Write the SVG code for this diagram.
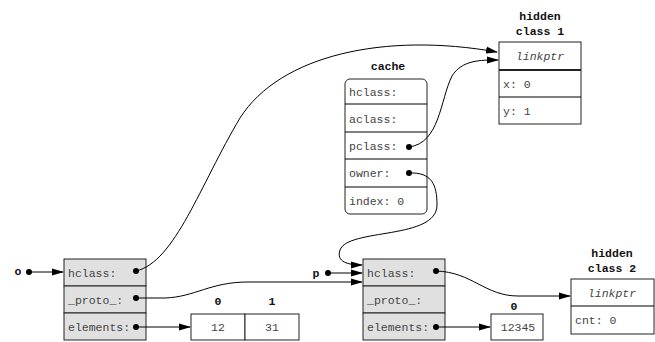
<svg xmlns="http://www.w3.org/2000/svg" width="655" height="342" viewBox="0 0 655 342">
<defs>
<marker id="ah" markerWidth="12" markerHeight="8" refX="11" refY="4" orient="auto" markerUnits="userSpaceOnUse">
<path d="M0,0.5 L12,4 L0,7.5 Z" fill="#000"/>
</marker>
<style>
.box{fill:#fff;stroke:#222;stroke-width:1}
.gbox{fill:#e0e0e0;stroke:#222;stroke-width:1}
.t{font-family:"Liberation Mono","Courier New",monospace;font-size:11.5px;fill:#444}
.i{font-style:italic;text-anchor:middle}
.b{font-family:"Liberation Mono","Courier New",monospace;font-size:11.5px;font-weight:bold;fill:#111;text-anchor:middle}
.m{text-anchor:middle}
.c{fill:none;stroke:#000;stroke-width:1}
.a{marker-end:url(#ah)}
.dot{fill:#000}
</style>
</defs>

<g id="o-label">
<text class="b" x="18" y="275">o</text>
</g>
<g id="p-label">
<text class="b" x="316" y="277">p</text>
</g>

<g id="obj-o">
<rect class="gbox" x="64" y="259" width="82" height="27"/>
<rect class="gbox" x="64" y="286" width="82" height="27"/>
<rect class="gbox" x="64" y="313" width="82" height="27"/>
<text class="t" x="68" y="277">hclass:</text>
<text class="t" x="68" y="304">_proto_:</text>
<text class="t" x="68" y="331">elements:</text>
</g>

<g id="array-o">
<text class="b" x="218" y="305">0</text>
<text class="b" x="272" y="305">1</text>
<rect class="box" x="191" y="314" width="54" height="26"/>
<rect class="box" x="245" y="314" width="54" height="26"/>
<text class="t m" x="218" y="331">12</text>
<text class="t m" x="272" y="331">31</text>
</g>

<g id="obj-p">
<rect class="gbox" x="363" y="259" width="82" height="27"/>
<rect class="gbox" x="363" y="286" width="82" height="27"/>
<rect class="gbox" x="363" y="313" width="82" height="27"/>
<text class="t" x="367" y="277">hclass:</text>
<text class="t" x="367" y="304">_proto_:</text>
<text class="t" x="367" y="331">elements:</text>
</g>

<g id="array-p">
<text class="b" x="514" y="310">0</text>
<rect class="box" x="491" y="314" width="52" height="26"/>
<text class="t m" x="518" y="331">12345</text>
</g>

<g id="cache">
<text class="b" x="388" y="70">cache</text>
<rect class="box" x="345" y="79" width="82" height="135" rx="5"/>
<line class="c" x1="345" y1="104" x2="427" y2="104"/>
<line class="c" x1="345" y1="132" x2="427" y2="132"/>
<line class="c" x1="345" y1="159" x2="427" y2="159"/>
<line class="c" x1="345" y1="187" x2="427" y2="187"/>
<text class="t" x="349" y="96">hclass:</text>
<text class="t" x="349" y="123">aclass:</text>
<text class="t" x="349" y="150">pclass:</text>
<text class="t" x="349" y="177">owner:</text>
<text class="t" x="349" y="205">index: 0</text>
</g>

<g id="hidden-class-1">
<text class="b" x="540" y="20">hidden</text>
<text class="b" x="540" y="35">class 1</text>
<rect class="box" x="499" y="42" width="82" height="82"/>
<line x1="499" y1="70" x2="581" y2="70" stroke="#222" stroke-width="2"/>
<line class="c" x1="499" y1="97" x2="581" y2="97"/>
<text class="t i" x="540" y="60">linkptr</text>
<text class="t" x="503" y="88">x: 0</text>
<text class="t" x="503" y="115">y: 1</text>
</g>

<g id="hidden-class-2">
<text class="b" x="612" y="257">hidden</text>
<text class="b" x="612" y="272">class 2</text>
<rect class="box" x="571" y="279" width="83" height="55"/>
<line class="c" x1="571" y1="306" x2="654" y2="306"/>
<text class="t i" x="612" y="297">linkptr</text>
<text class="t" x="575" y="324">cnt: 0</text>
</g>

<g id="connectors">
<circle class="dot" cx="29" cy="272" r="3"/>
<path class="c a" d="M29,272 L63,272"/>
<circle class="dot" cx="328" cy="273" r="3"/>
<path class="c a" d="M328,273 L362,273"/>
<circle class="dot" cx="136" cy="271" r="3"/>
<path class="c a" d="M136,271 C175,262 200,185 240,118 C280,55 385,32 497,52"/>
<circle class="dot" cx="136" cy="298" r="3"/>
<path class="c a" d="M136,298 L165,298 C195,297 210,282 248,282 L362,282"/>
<circle class="dot" cx="136" cy="327" r="3"/>
<path class="c a" d="M136,327 L190,327"/>
<circle class="dot" cx="436" cy="327" r="3"/>
<path class="c a" d="M436,327 L490,327"/>
<circle class="dot" cx="436" cy="271" r="3"/>
<path class="c a" d="M436,271 C472,272 485,296 518,296 L570,296"/>
<circle class="dot" cx="409" cy="147" r="3"/>
<path class="c a" d="M409,147 C440,143 440,100 452,76 C462,60 480,60 498,60"/>
<circle class="dot" cx="409" cy="173" r="3"/>
<path class="c a" d="M409,173 C432,172 437,185 437,205 C437,240 348,228 340,250 C336,262 348,265 362,265"/>
</g>
</svg>
